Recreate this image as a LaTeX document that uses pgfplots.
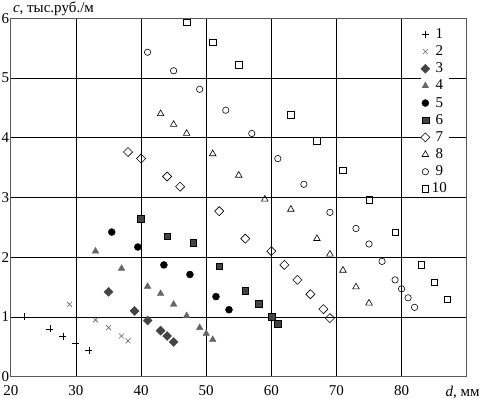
\documentclass[border=0pt]{standalone}
\usepackage{fontspec}
\setmainfont{Liberation Serif}
\usepackage{pgfplots}
\pgfplotsset{compat=1.18}
\definecolor{dg}{HTML}{444444}
\definecolor{mg}{HTML}{666666}
\begin{document}
\begin{tikzpicture}
\begin{axis}[
  scale only axis, width=454bp, height=357bp,
  xmin=20, xmax=90, ymin=0, ymax=6,
  xtick={20,30,...,80}, ytick={0,1,...,6},
  grid=major, major grid style={black, line width=0.8bp},
  major tick length=0pt,
  axis line style={gray!70!black, line width=1.2bp},
  tick label style={font=\fontsize{15}{15}\selectfont},
  /pgf/number format/assume math mode=true,
  yticklabel style={inner xsep=1.5bp, inner ysep=0bp},
  xticklabel style={inner ysep=0bp, yshift=-9bp},
  xlabel={\textit{d}, мм}, ylabel={\textit{c}, тыс.руб./м},
  label style={font=\fontsize{15}{15}\selectfont},
  x label style={at={(rel axis cs:1,0)}, anchor=north, xshift=-4bp, inner ysep=0bp, yshift=-9bp},
  y label style={rotate=-90, at={(rel axis cs:0,1)}, anchor=south west, inner xsep=2bp, inner ysep=2bp},
  only marks,
  legend image code/.code={\draw[mark repeat=2,mark phase=2,#1] plot coordinates {(0bp,0bp)(6bp,0bp)(12bp,0bp)};},
  legend style={at={(rel axis cs:0.899,0.975)}, anchor=north west, draw=none, fill=white,
     inner sep=0pt, font=\fontsize{15}{15}\selectfont, row sep=3.1bp,
     nodes={inner ysep=0bp, inner xsep=2bp, text height=11bp, text depth=3bp}},
  legend cell align=center,
]
\addplot[mark=+, mark size=3.5, black, line width=0.6bp] coordinates {(22,1.0)(26,0.8)(28,0.68)(30,0.55)(32,0.44)};
\addlegendentry{1}
\addplot[mark=x, mark size=3.5, mg, line width=0.6bp] coordinates {(29,1.21)(33,0.95)(35,0.82)(37,0.68)(38,0.6)};
\addlegendentry{2}
\addplot[mark=square*, mark size=3.2, mark options={rotate=45, fill=dg, draw=dg}] coordinates {(35,1.42)(39,1.1)(41,0.94)(43,0.77)(44,0.68)(45,0.58)};
\addlegendentry{3}
\addplot[mark=triangle*, mark size=3.8, mark options={fill=mg, draw=mg}] coordinates {(33,2.1)(37,1.81)(41,1.51)(43,1.39)(45,1.21)(47,1.02)(49,0.82)(50,0.72)(51,0.62)};
\addlegendentry{4}
\addplot[mark=*, mark size=3.5, mark options={fill=black, draw=black}] coordinates {(35.5,2.42)(39.5,2.17)(43.5,1.87)(47.5,1.71)(51.5,1.34)(53.5,1.12)};
\addlegendentry{5}
\addplot[mark=square*, mark size=3.4, mark options={fill=dg, draw=black}] coordinates {(40,2.64)(44,2.35)(48,2.24)(52,1.85)(56,1.44)(58,1.22)(60,1.0)(61,0.88)};
\addlegendentry{6}
\addplot[mark=square, mark size=3.2, mark options={rotate=45, draw=black, line width=0.6bp}] coordinates {(38,3.76)(40,3.65)(44,3.35)(46,3.18)(52,2.77)(56,2.31)(60,2.1)(62,1.87)(64,1.62)(66,1.38)(68,1.13)(69,0.98)};
\addlegendentry{7}
\addplot[mark=triangle, mark size=3.8, mark options={draw=black, line width=0.6bp}] coordinates {(43,4.4)(45,4.22)(47,4.07)(51,3.73)(55,3.37)(59,2.97)(63,2.8)(67,2.31)(69,2.05)(71,1.78)(73,1.5)(75,1.23)};
\addlegendentry{8}
\addplot[mark=o, mark size=3.2, mark options={draw=black, line width=0.6bp}] coordinates {(41,5.43)(45,5.12)(49,4.81)(53,4.46)(57,4.07)(61,3.65)(65,3.22)(69,2.75)(73,2.48)(75,2.22)(77,1.93)(79,1.62)(80,1.47)(81,1.32)(82,1.16)};
\addlegendentry{9}
\addplot[mark=square, mark size=3.2, mark options={draw=black, line width=0.6bp}] coordinates {(47,5.93)(51,5.6)(55,5.22)(63,4.38)(67,3.95)(71,3.45)(75,2.96)(79,2.42)(83,1.87)(85,1.58)(87,1.29)};
\addlegendentry{10}
\end{axis}
\end{tikzpicture}
\end{document}
